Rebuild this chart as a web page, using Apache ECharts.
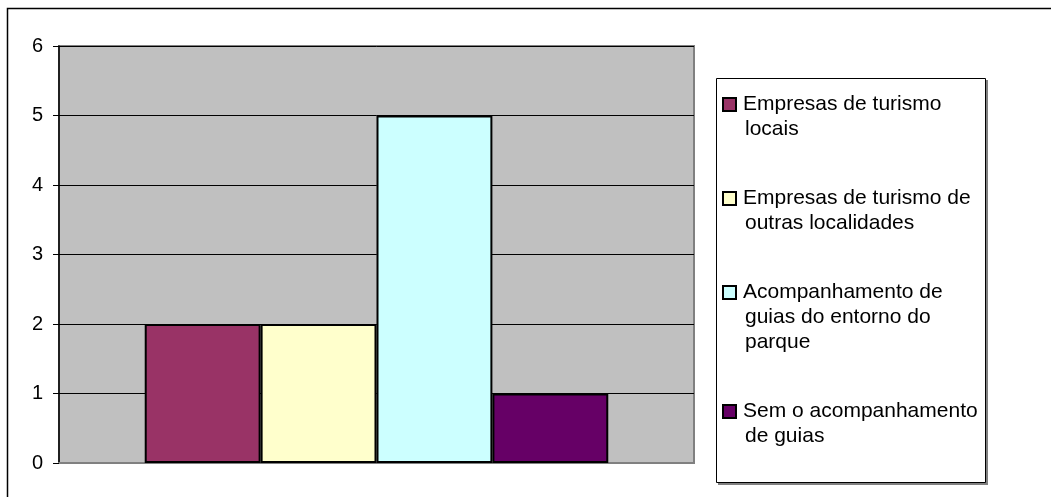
<!DOCTYPE html>
<html>
<head>
<meta charset="utf-8">
<script src="https://cdn.jsdelivr.net/npm/echarts@6/dist/echarts.min.js"></script>
<style>
  html, body { margin: 0; padding: 0; background: #ffffff; }
  #chart { width: 1051px; height: 497px; }
</style>
</head>
<body>
<div id="chart"></div>
<script>
// series names (legend text, with the reference's line breaks)
const seriesNames = [
  'Empresas de turismo\nlocais',
  'Empresas de turismo de\noutras localidades',
  'Acompanhamento de\nguias do entorno do\nparque',
  'Sem o acompanhamento\nde guias'
];
const seriesValues = [2, 2, 5, 1];
const seriesColors = ['#993366', '#FFFFCC', '#CCFFFF', '#660066'];
const categories = [''];
const yTicks = { min: 0, max: 6, interval: 1 };

const chart = echarts.init(document.getElementById('chart'));

// rich styles: coloured marker box per series, plus spacers for indentation
const rich = {
  g: { width: 8 },
  i: { width: 21 }
};
seriesColors.forEach((c, k) => {
  rich['m' + k] = {
    width: 11, height: 11, backgroundColor: c,
    borderColor: '#000', borderWidth: 2, verticalAlign: 'middle'
  };
});

chart.setOption({
  animation: false,
  textStyle: { fontFamily: 'Liberation Sans, Arial, sans-serif' },
  graphic: [
    // outer chart frame (cut off at right and bottom like the reference)
    { type: 'rect', shape: { x: 7.5, y: 8.5, width: 1100, height: 600 },
      style: { fill: 'none', stroke: '#000', lineWidth: 1.5 }, silent: true, z: -1 },
    // legend box shadow and frame
    { type: 'rect', shape: { x: 718, y: 80, width: 270, height: 405 },
      style: { fill: '#808080' }, silent: true, z: -2 },
    { type: 'rect', shape: { x: 716.5, y: 78.5, width: 269, height: 404 },
      style: { fill: '#fff', stroke: '#000', lineWidth: 1 }, silent: true, z: -1 }
  ],
  legend: {
    orient: 'vertical',
    left: 718,
    top: 92,
    padding: 0,
    itemWidth: 0,
    itemHeight: 0,
    itemGap: 44,
    selectedMode: false,
    data: seriesNames,
    formatter: function (name) {
      const k = seriesNames.indexOf(name);
      const lines = name.split('\n');
      return lines.map((l, j) => (j === 0 ? '{m' + k + '|}{g|}' : '{i|}') + l).join('\n');
    },
    textStyle: {
      fontSize: 21, lineHeight: 25, color: '#000',
      fontFamily: 'Liberation Sans, Arial, sans-serif',
      rich: rich
    }
  },
  grid: {
    left: 59, top: 46, right: 357, bottom: 34,
    show: true, backgroundColor: '#C0C0C0',
    borderColor: '#808080', borderWidth: 2
  },
  xAxis: {
    type: 'category',
    data: categories,
    axisLine: { lineStyle: { color: '#808080', width: 2 } },
    axisTick: { show: false },
    axisLabel: { show: false }
  },
  yAxis: {
    type: 'value',
    min: yTicks.min, max: yTicks.max, interval: yTicks.interval,
    axisLine: { show: true, lineStyle: { color: '#000', width: 1.5 } },
    axisTick: { show: true, length: 6, lineStyle: { color: '#000' } },
    axisLabel: { color: '#000', fontSize: 20, margin: 16,
      fontFamily: 'Liberation Sans, Arial, sans-serif' },
    splitLine: { show: true, lineStyle: { color: '#000', width: 1 } }
  },
  series: seriesNames.map((name, k) => ({
    name: name,
    type: 'bar',
    data: [seriesValues[k]],
    barGap: '0%',
    barCategoryGap: '27%',
    itemStyle: { color: seriesColors[k], borderColor: '#000', borderWidth: 2 }
  }))
});
</script>
</body>
</html>
